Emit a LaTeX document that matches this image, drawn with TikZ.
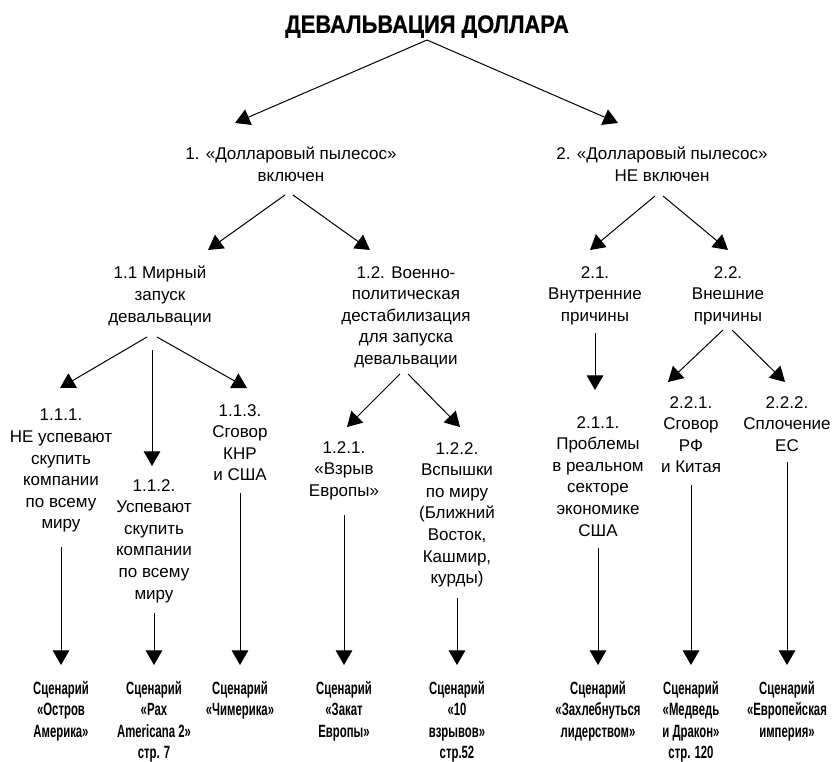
\documentclass[tikz,border=0pt]{standalone}
\usepackage{fontspec}
\setmainfont{Liberation Sans}
\newfontfamily\titlefont{Liberation Sans}[FakeStretch=0.87,FakeBold=0.6]
\newfontfamily\scenfont{Liberation Sans}[FakeStretch=0.64]
\usetikzlibrary{arrows.meta,calc}
\begin{document}
\begin{tikzpicture}[x=0.75pt,y=-0.75pt,
  txt/.style={font=\fontsize{12.75pt}{16.2pt}\selectfont, align=center, inner sep=0pt, anchor=north},
  scen/.style={font=\scenfont\bfseries\fontsize{13.3pt}{16.05pt}\selectfont, align=center, inner sep=0pt, anchor=north},
  ttl/.style={font=\titlefont\bfseries\fontsize{18.9pt}{22pt}\selectfont, inner sep=0pt, anchor=north},
  arr/.style={line width=0.75pt, -{Triangle[length=11pt,width=12.5pt]}}]
\useasboundingbox (0,0) rectangle (834,762);

\node[ttl] (t) at (427,15) {ДЕВАЛЬВАЦИЯ ДОЛЛАРА};

\node[txt] (n1) at (291,147) {1. «Долларовый пылесос»\\включен};
\node[txt] (n2) at (662,147) {2. «Долларовый пылесос»\\НЕ включен};

\node[txt] (n11) at (160,266) {1.1 Мирный\\запуск\\девальвации};
\node[txt] (n12) at (406,266) {1.2. Военно-\\политическая\\дестабилизация\\для запуска\\девальвации};
\node[txt] (n21) at (595,266) {2.1.\\Внутренние\\причины};
\node[txt] (n22) at (728,266) {2.2.\\Внешние\\причины};

\node[txt] (n111) at (61,409) {1.1.1.\\НЕ успевают\\скупить\\компании\\по всему\\миру};
\node[txt] (n112) at (154,479) {1.1.2.\\Успевают\\скупить\\компании\\по всему\\миру};
\node[txt] (n113) at (240,404) {1.1.3.\\Сговор\\КНР\\и США};
\node[txt] (n121) at (344,441) {1.2.1.\\«Взрыв\\Европы»};
\node[txt] (n122) at (457,442) {1.2.2.\\Вспышки\\по миру\\(Ближний\\Восток,\\Кашмир,\\курды)};
\node[txt] (n211) at (598,416) {2.1.1.\\Проблемы\\в реальном\\секторе\\экономике\\США};
\node[txt] (n221) at (691,396) {2.2.1.\\Сговор\\РФ\\и Китая};
\node[txt] (n222) at (787,396) {2.2.2.\\Сплочение\\ЕС};

\node[scen] (s1) at (61,681) {Сценарий\\«Остров\\Америка»};
\node[scen] (s2) at (154,681) {Сценарий\\«Pax\\Americana 2»\\стр. 7};
\node[scen] (s3) at (240,681) {Сценарий\\«Чимерика»};
\node[scen] (s4) at (344,681) {Сценарий\\«Закат\\Европы»};
\node[scen] (s5) at (457,681) {Сценарий\\«10\\взрывов»\\стр.52};
\node[scen] (s6) at (598,681) {Сценарий\\«Захлебнуться\\лидерством»};
\node[scen] (s7) at (691,681) {Сценарий\\«Медведь\\и Дракон»\\стр. 120};
\node[scen] (s8) at (787,681) {Сценарий\\«Европейская\\империя»};

% top level
\draw[arr] ($(t.north)+(0,25)$) -- ($(n1.north)+(-56,-24)$);
\draw[arr] ($(t.north)+(0,25)$) -- ($(n2.north)+(-44,-24)$);
% level 2
\draw[arr] ($(n1.north)+(-6,48)$) -- ($(n11.north)+(48,-16)$);
\draw[arr] ($(n1.north)+(2,48)$) -- ($(n12.north)+(-36,-16)$);
\draw[arr] ($(n2.north)+(-7,49)$) -- ($(n21.north)+(-5,-16)$);
\draw[arr] ($(n2.north)+(1,49)$) -- ($(n22.north)+(0,-16)$);
% level 3
\draw[arr] ($(n11.north)+(-13,71)$) -- ($(n111.north)+(-1,-21)$);
\draw[arr] ($(n11.north)+(-8,84)$) -- ($(n112.north)+(-2,-13)$);
\draw[arr] ($(n11.north)+(-3,71)$) -- ($(n113.north)+(7,-16)$);
\draw[arr] ($(n12.north)+(-6,108)$) -- ($(n121.north)+(3,-14)$);
\draw[arr] ($(n12.north)+(2,108)$) -- ($(n122.north)+(3,-15)$);
\draw[arr] ($(n21.north)+(0,67)$) -- ($(n211.north)+(-3,-26)$);
\draw[arr] ($(n22.north)+(-5,64)$) -- ($(n221.north)+(-23,-14)$);
\draw[arr] ($(n22.north)+(4,64)$) -- ($(n222.north)+(-2,-14)$);
% scenarios
\draw[arr] ($(n111.north)+(0,138)$) -- ($(s1.north)+(0,-16)$);
\draw[arr] ($(n112.north)+(0,134)$) -- ($(s2.north)+(0,-16)$);
\draw[arr] ($(n113.north)+(0,89)$) -- ($(s3.north)+(0,-16)$);
\draw[arr] ($(n121.north)+(0,74)$) -- ($(s4.north)+(0,-16)$);
\draw[arr] ($(n122.north)+(0,156)$) -- ($(s5.north)+(0,-16)$);
\draw[arr] ($(n211.north)+(0,132)$) -- ($(s6.north)+(0,-16)$);
\draw[arr] ($(n221.north)+(0,89)$) -- ($(s7.north)+(0,-16)$);
\draw[arr] ($(n222.north)+(0,66)$) -- ($(s8.north)+(0,-16)$);
\end{tikzpicture}
\end{document}
